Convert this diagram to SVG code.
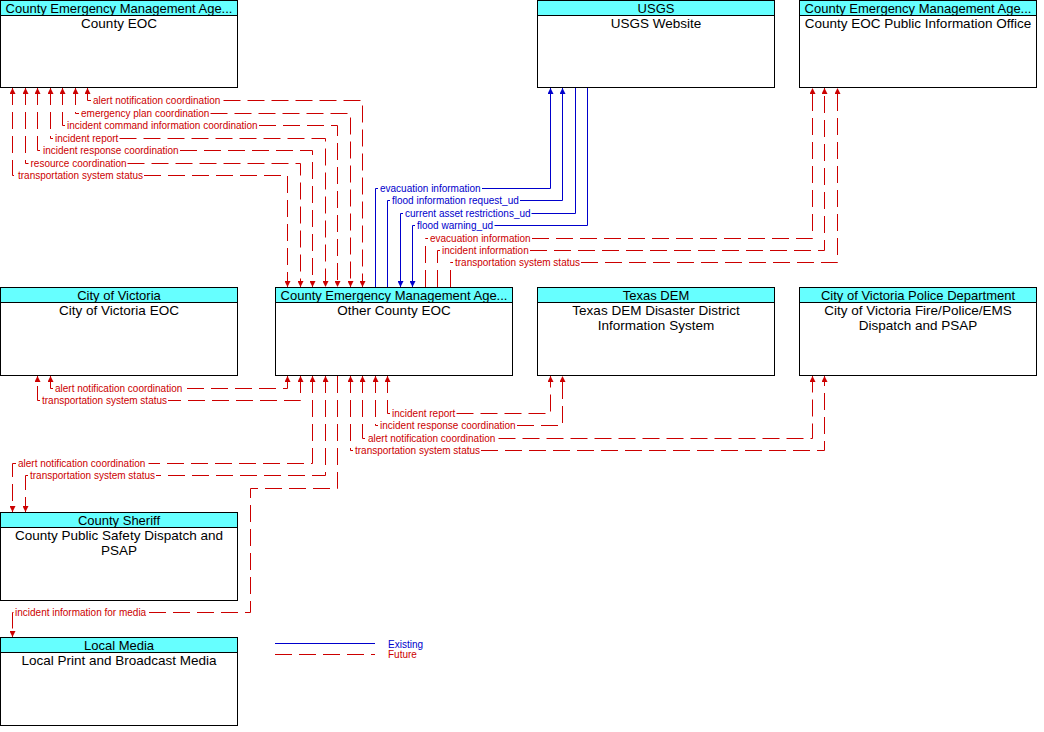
<svg xmlns="http://www.w3.org/2000/svg" width="1044" height="732" viewBox="0 0 1044 732">
<style>
.box{fill:#fff;stroke:#000;stroke-width:1}
.hdr{fill:#66ffff;stroke:#000;stroke-width:1}
.nt{font-family:"Liberation Sans",Arial,sans-serif;font-size:13px;text-anchor:middle;fill:#000}
.bt{font-size:13.5px}
.fut{fill:none;stroke:#cc0000;stroke-width:1;stroke-dasharray:17 7}
.ex{fill:none;stroke:#0000cc;stroke-width:1}
.lb{font-family:"Liberation Sans",Arial,sans-serif;font-size:10px}
.lf{fill:#cc0000}
.le{fill:#0000cc}
.rb{marker-start:url(#ar);marker-end:url(#ar)}
.re{marker-end:url(#ar)}
.be{marker-end:url(#ab)}
</style>
<defs>
<marker id="ar" viewBox="0 0 6 6" refX="6" refY="3" markerWidth="6" markerHeight="6" markerUnits="userSpaceOnUse" orient="auto-start-reverse"><path d="M0,0L6,3L0,6z" fill="#cc0000"/></marker>
<marker id="ab" viewBox="0 0 6 6" refX="6" refY="3" markerWidth="6" markerHeight="6" markerUnits="userSpaceOnUse" orient="auto-start-reverse"><path d="M0,0L6,3L0,6z" fill="#0000cc"/></marker>
</defs>
<rect width="1044" height="732" fill="#fff"/>

<g id="node-county-eoc">
<rect class="box" x="0.5" y="0.5" width="237" height="87"/>
<rect class="hdr" x="0.5" y="0.5" width="237" height="15"/>
<text class="nt" x="119" y="13">County Emergency Management Age...</text>
<text class="nt bt" x="119" y="28">County EOC</text>
</g>
<g id="node-usgs">
<rect class="box" x="537.5" y="0.5" width="237" height="87"/>
<rect class="hdr" x="537.5" y="0.5" width="237" height="15"/>
<text class="nt" x="656" y="13">USGS</text>
<text class="nt bt" x="656" y="28">USGS Website</text>
</g>
<g id="node-county-eoc-pio">
<rect class="box" x="799.5" y="0.5" width="237" height="87"/>
<rect class="hdr" x="799.5" y="0.5" width="237" height="15"/>
<text class="nt" x="918" y="13">County Emergency Management Age...</text>
<text class="nt bt" x="918" y="28">County EOC Public Information Office</text>
</g>
<g id="node-city-victoria-eoc">
<rect class="box" x="0.5" y="287.5" width="237" height="88"/>
<rect class="hdr" x="0.5" y="287.5" width="237" height="15"/>
<text class="nt" x="119" y="300">City of Victoria</text>
<text class="nt bt" x="119" y="315">City of Victoria EOC</text>
</g>
<g id="node-other-county-eoc">
<rect class="box" x="275.5" y="287.5" width="237" height="88"/>
<rect class="hdr" x="275.5" y="287.5" width="237" height="15"/>
<text class="nt" x="394" y="300">County Emergency Management Age...</text>
<text class="nt bt" x="394" y="315">Other County EOC</text>
</g>
<g id="node-texas-dem">
<rect class="box" x="537.5" y="287.5" width="237" height="88"/>
<rect class="hdr" x="537.5" y="287.5" width="237" height="15"/>
<text class="nt" x="656" y="300">Texas DEM</text>
<text class="nt bt" x="656" y="315">Texas DEM Disaster District</text>
<text class="nt bt" x="656" y="330">Information System</text>
</g>
<g id="node-victoria-police">
<rect class="box" x="799.5" y="287.5" width="237" height="88"/>
<rect class="hdr" x="799.5" y="287.5" width="237" height="15"/>
<text class="nt" x="918" y="300">City of Victoria Police Department</text>
<text class="nt bt" x="918" y="315">City of Victoria Fire/Police/EMS</text>
<text class="nt bt" x="918" y="330">Dispatch and PSAP</text>
</g>
<g id="node-county-sheriff">
<rect class="box" x="0.5" y="512.5" width="237" height="88"/>
<rect class="hdr" x="0.5" y="512.5" width="237" height="15"/>
<text class="nt" x="119" y="525">County Sheriff</text>
<text class="nt bt" x="119" y="540">County Public Safety Dispatch and</text>
<text class="nt bt" x="119" y="555">PSAP</text>
</g>
<g id="node-local-media">
<rect class="box" x="0.5" y="637.5" width="237" height="88"/>
<rect class="hdr" x="0.5" y="637.5" width="237" height="15"/>
<text class="nt" x="119" y="650">Local Media</text>
<text class="nt bt" x="119" y="665">Local Print and Broadcast Media</text>
</g>

<g id="connectors">
<path class="fut rb" d="M87.5,88V100.5H91M223.5,100.5H362.5V287"/>
<path class="fut rb" d="M75.5,88V113.5H79M210.5,113.5H350.5V287"/>
<path class="fut rb" d="M62.5,88V125.5H65M259,125.5H337.5V287"/>
<path class="fut rb" d="M50.5,88V138.5H53M119.5,138.5H325.5V287"/>
<path class="fut rb" d="M37.5,88V150.5H41M180,150.5H312.5V287"/>
<path class="fut rb" d="M25.5,88V163.5H28.5M127.5,163.5H300.5V287"/>
<path class="fut rb" d="M12.5,88V175.5H16M144,175.5H287.5V287"/>

<path class="ex be" d="M375.5,287V188.5H378M482,188.5H550.5V88"/>
<path class="ex be" d="M387.5,287V200.5H390M520,200.5H562.5V88"/>
<path class="ex be" d="M575.5,88V213.5H531.5M403,213.5H400.5V287"/>
<path class="ex be" d="M587.5,88V225.5H494.5M415,225.5H412.5V287"/>

<path class="fut re" d="M425.5,287V238.5H428M532,238.5H812.5V88"/>
<path class="fut re" d="M437.5,287V250.5H440M530,250.5H824.5V88"/>
<path class="fut re" d="M450.5,287V262.5H453M581,262.5H837.5V88"/>

<path class="fut rb" d="M287.5,376V388.5H185.5M53,388.5H50.5V376"/>
<path class="fut rb" d="M300.5,376V400.5H168M40,400.5H37.5V376"/>
<path class="fut rb" d="M312.5,376V463.5H148.5M16,463.5H12.5V512"/>
<path class="fut rb" d="M325.5,376V475.5H156M28,475.5H25.5V512"/>
<path class="fut re" d="M337.5,376V488.5H250.5V612.5H147M13.5,612.5H12.5V637"/>

<path class="fut rb" d="M387.5,376V413.5H390M456.5,413.5H550.5V376"/>
<path class="fut rb" d="M375.5,376V425.5H378M517,425.5H562.5V376"/>
<path class="fut rb" d="M362.5,376V438.5H366M498.5,438.5H812.5V376"/>
<path class="fut rb" d="M350.5,376V450.5H353M481,450.5H824.5V376"/>
</g>

<g id="connector-labels" class="lb">
<text class="lf" x="93" y="104">alert notification coordination</text>
<text class="lf" x="81" y="117">emergency plan coordination</text>
<text class="lf" x="67" y="129">incident command information coordination</text>
<text class="lf" x="55" y="142">incident report</text>
<text class="lf" x="43" y="154">incident response coordination</text>
<text class="lf" x="30.5" y="167">resource coordination</text>
<text class="lf" x="18" y="179">transportation system status</text>

<text class="le" x="380" y="192">evacuation information</text>
<text class="le" x="392" y="204">flood information request_ud</text>
<text class="le" x="405" y="217">current asset restrictions_ud</text>
<text class="le" x="417" y="229">flood warning_ud</text>

<text class="lf" x="430" y="242">evacuation information</text>
<text class="lf" x="442" y="254">incident information</text>
<text class="lf" x="455" y="266">transportation system status</text>

<text class="lf" x="55" y="392">alert notification coordination</text>
<text class="lf" x="42" y="404">transportation system status</text>
<text class="lf" x="18" y="467">alert notification coordination</text>
<text class="lf" x="30" y="479">transportation system status</text>
<text class="lf" x="15" y="616">incident information for media</text>

<text class="lf" x="392" y="417">incident report</text>
<text class="lf" x="380" y="429">incident response coordination</text>
<text class="lf" x="368" y="442">alert notification coordination</text>
<text class="lf" x="355" y="454">transportation system status</text>
</g>

<g id="legend">
<line class="ex" x1="275" y1="643.5" x2="375" y2="643.5"/>
<line class="fut" x1="275" y1="654.5" x2="375" y2="654.5"/>
<text class="lb le" x="388" y="647.5">Existing</text>
<text class="lb lf" x="388" y="658">Future</text>
</g>
</svg>
